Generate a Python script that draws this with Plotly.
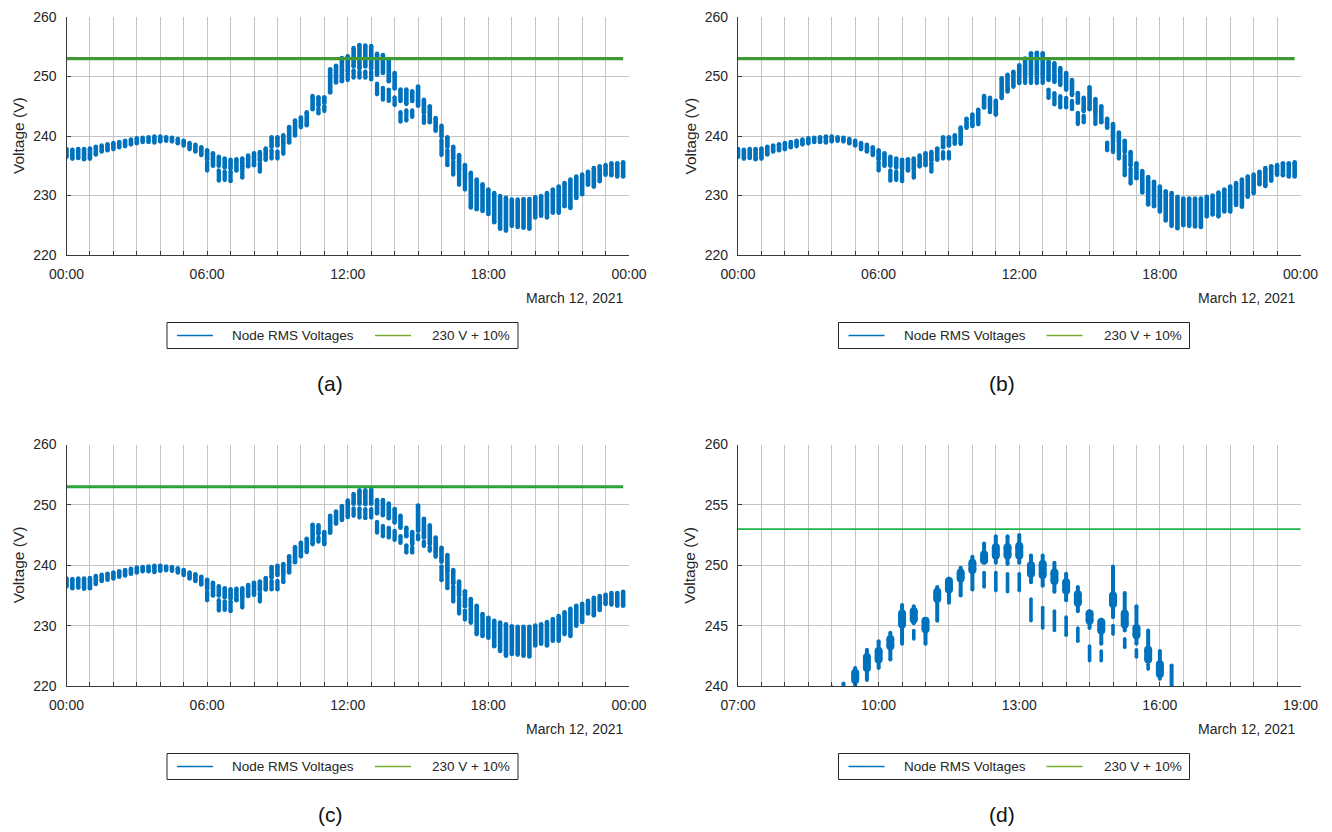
import pandas as pd
import plotly.graph_objects as go

DATE = "2021-03-12"
LIMIT = 253.0  # 230 V + 10 %
times = pd.date_range(f"{DATE} 00:00", periods=96, freq="15min")

# ---------------- scenario (a) ----------------
A_hi = [237.8, 237.7, 237.8, 237.8, 237.9, 238.2, 238.4, 238.6, 238.8, 239.0, 239.2, 239.4,
        239.6, 239.7, 239.8, 239.9, 239.9, 239.8, 239.7, 239.5, 239.2, 238.8, 238.5, 238.1,
        237.6, 237.1, 236.5, 236.2, 236.0, 236.1, 236.2, 236.7, 237.1, 237.3, 237.9,
        239.8, 239.8, 240.1, 241.5, 242.6, 243.1, 244.0, 246.7, 246.5, 246.5,
        251.2, 251.8, 253.1, 253.4, 254.8, 255.3, 255.2, 255.1, 253.8, 253.6, 252.9,
        250.6, 247.8, 247.8, 247.5, 248.3, 246.1, 245.0, 243.0, 241.7, 239.8, 238.2, 236.8, 235.1,
        233.8, 232.7, 231.9, 231.0, 230.4, 229.9, 229.6, 229.3, 229.3, 229.4, 229.4,
        229.7, 229.9, 230.4, 231.0, 231.5, 232.1, 232.7, 233.2, 233.5, 234.0, 234.6, 234.9,
        235.1, 235.4, 235.4, 235.6]
A_lo = [236.5, 236.2, 236.3, 236.1, 236.2, 236.9, 237.4, 237.6, 237.8, 238.1, 238.3, 238.6,
        238.8, 239.0, 239.0, 238.9, 239.1, 239.2, 239.1, 238.8, 238.4, 237.8, 237.4, 236.8,
        236.1, 235.0, 235.0, 234.7, 234.5, 234.2, 234.8, 234.9, 235.1, 235.9, 236.0,
        238.2, 238.4, 238.7, 238.9, 240.1, 241.5, 241.8, 244.5, 245.1, 245.6,
        247.3, 249.0, 249.2, 250.9, 251.7, 251.4, 251.7, 251.4, 250.3, 250.6, 249.2,
        248.0, 245.9, 245.4, 245.9, 245.1, 244.0, 242.3, 240.9, 239.9, 238.2, 236.2, 234.3, 232.7,
        228.0, 227.7, 227.4, 226.9, 225.5, 224.4, 224.1, 224.9, 224.7, 224.6, 224.4,
        226.3, 226.6, 226.3, 227.1, 227.1, 228.2, 227.9, 229.6, 230.2, 231.8, 231.5, 232.4,
        233.5, 233.4, 233.2, 233.2]
A_l2_t = ["06:00", "06:30", "06:45", "07:00", "07:30", "08:15", "08:45", "09:00", "09:15",
          "10:45", "11:00", "12:00", "12:15", "12:30", "12:45", "13:00", "13:15", "13:30",
          "13:45", "14:00", "14:15", "14:30", "14:45", "15:15", "16:00", "16:15", "16:30",
          "16:45", "17:00"]
A_l2_hi = [235.6, 234.2, 234.0, 234.0, 234.6, 235.4, 237.6, 237.4, 238.4,
           244.6, 245.0, 250.5, 251.0, 250.8, 250.8, 250.8, 248.8, 248.1,
           247.8, 246.5, 244.0, 244.3, 244.3, 243.4, 239.3, 237.6, 235.7,
           234.0, 232.4]
A_l2_lo = [234.2, 232.5, 232.6, 232.4, 233.0, 234.0, 236.2, 236.2, 237.0,
           243.8, 244.2, 249.4, 249.8, 249.8, 249.8, 249.5, 247.0, 246.1,
           245.9, 245.2, 242.4, 242.6, 243.2, 242.2, 236.8, 235.1, 233.5,
           231.8, 231.0]

# ---------------- scenario (b) ----------------
B_hi = A_hi[:35] + [
        239.8, 239.8, 240.1, 241.4, 242.9, 243.6, 244.4, 246.7, 246.4, 245.9,
        249.7, 250.3, 250.8, 251.9, 253.0, 253.9, 254.0, 253.9, 252.5, 252.2, 251.4,
        250.6, 249.4, 247.2, 246.4, 248.2, 246.2, 245.0, 242.9, 242.0, 240.6, 239.2, 237.3, 235.4,
        234.1, 233.1, 232.3, 231.5, 230.7, 230.4, 229.8, 229.5, 229.5, 229.5, 229.5,
        229.8, 230.0, 230.5, 231.0, 231.5, 232.1, 232.7, 233.2, 233.5, 234.0, 234.6, 234.9,
        235.1, 235.4, 235.4, 235.6]
B_lo = A_lo[:35] + [
        238.1, 238.4, 238.7, 238.7, 241.4, 241.7, 242.0, 244.8, 245.1, 243.6,
        246.4, 247.5, 248.3, 248.9, 250.3, 250.3, 250.3, 250.3, 249.4, 249.1, 248.6,
        247.8, 246.9, 245.6, 244.2, 244.5, 244.0, 242.3, 241.4, 240.1, 239.0, 237.3, 235.1, 232.9,
        230.5, 228.5, 228.2, 227.3, 225.8, 224.9, 224.5, 225.0, 224.9, 224.8, 224.7,
        226.5, 226.8, 226.5, 227.3, 227.3, 228.4, 228.1, 229.8, 230.4, 231.9, 231.6, 232.5,
        233.5, 233.4, 233.2, 233.2]
B_l2_t = ["06:00", "06:30", "06:45", "07:00", "07:30", "08:15", "08:45", "09:00",
          "10:45", "12:15", "12:30", "12:45", "13:00", "13:15", "13:30", "13:45", "14:00",
          "14:15", "14:30", "14:45", "15:15", "15:45", "16:00", "16:15", "16:30", "16:45"]
B_l2_hi = [235.6, 234.2, 234.0, 234.0, 234.6, 235.4, 237.3, 237.3,
           244.8, 250.0, 250.0, 250.0, 250.0, 247.8, 247.2, 246.7, 246.4,
           245.9, 243.9, 243.4, 243.7, 238.9, 239.8, 238.7, 236.7, 234.5]
B_l2_lo = [234.2, 232.5, 232.6, 232.4, 233.0, 234.0, 236.2, 236.2,
           244.0, 248.9, 248.9, 248.9, 248.9, 246.4, 245.3, 244.8, 244.8,
           244.5, 242.0, 242.3, 242.0, 237.6, 237.3, 236.2, 233.4, 232.0]

# ---------------- scenario (c) / zoom (d) ----------------
C_hi = A_hi[:35] + [
        239.7, 239.9, 240.2, 241.5, 243.0, 243.7, 244.4, 246.7, 246.6, 245.5,
        248.2, 248.9, 249.8, 250.7, 251.8, 252.4, 252.4, 252.5, 250.8, 250.8, 250.2,
        249.3, 248.2, 246.2, 245.5, 249.9, 247.7, 246.6, 244.6, 242.9, 241.7, 239.2, 237.3, 235.7,
        234.4, 233.3, 231.9, 231.3, 230.8, 230.5, 230.2, 229.9, 229.8, 229.8, 229.8,
        230.0, 230.2, 230.6, 231.1, 231.6, 232.2, 232.8, 233.3, 233.6, 234.1, 234.6, 234.9,
        235.1, 235.4, 235.4, 235.6]
C_lo = A_lo[:35] + [
        238.0, 238.4, 238.8, 238.8, 240.5, 241.5, 242.2, 243.5, 245.2, 243.5,
        245.4, 246.9, 247.5, 248.0, 250.2, 250.2, 250.1, 250.2, 248.6, 248.3, 247.8,
        247.1, 246.2, 244.8, 243.5, 245.7, 244.6, 243.5, 242.1, 240.6, 239.0, 237.0, 235.0, 233.2,
        230.5, 228.6, 228.3, 228.0, 226.6, 225.8, 225.0, 225.3, 225.2, 225.0, 224.9,
        226.7, 227.0, 226.7, 227.5, 227.5, 228.6, 228.3, 230.0, 230.6, 232.0, 231.7, 232.6,
        233.6, 233.5, 233.3, 233.3]
C_l2_t = ["06:00", "06:30", "06:45", "07:00", "07:30", "08:15", "08:45", "09:00", "09:15",
          "10:45", "12:15", "12:30", "12:45", "13:00", "13:15", "13:30", "13:45", "14:00",
          "14:15", "14:30", "14:45", "15:00", "15:15", "15:30", "15:45", "16:00", "16:15",
          "16:30", "16:45", "17:00"]
C_l2_hi = [235.6, 234.2, 234.0, 234.0, 234.6, 235.4, 237.4, 237.4, 238.6,
           244.6, 249.4, 249.4, 249.3, 249.3, 247.2, 246.5, 246.2, 245.7,
           244.8, 243.3, 242.9, 245.0, 243.9, 243.0, 241.8, 239.8, 238.6,
           236.5, 234.5, 232.5]
C_l2_lo = [234.2, 232.5, 232.6, 232.4, 233.0, 234.0, 236.0, 236.0, 237.2,
           243.9, 248.2, 247.9, 247.8, 247.9, 245.4, 244.8, 244.6, 244.2,
           243.7, 242.1, 242.1, 244.3, 243.2, 242.4, 241.4, 237.5, 236.2,
           234.0, 232.0, 231.0]
C_core_t = ["09:30", "09:45", "10:00", "10:15", "10:30", "10:45", "11:00", "11:15", "11:30",
            "11:45", "12:00", "12:15", "12:30", "12:45", "13:00", "13:15", "13:30", "13:45",
            "14:00", "14:15", "14:30", "14:45", "15:00", "15:15", "15:30", "15:45", "16:00"]
C_core_hi = [241.1, 242.4, 242.9, 243.9, 246.0, 246.2, 245.4, 247.8, 248.7,
             249.4, 250.2, 250.9, 251.5, 251.5, 251.6, 250.0, 250.1, 249.4,
             248.6, 247.6, 246.0, 245.3, 247.5, 246.0, 244.8, 243.0, 241.8]
C_core_lo = [240.5, 241.5, 242.2, 243.3, 245.1, 245.5, 244.7, 247.2, 248.0,
             248.9, 249.6, 250.4, 250.8, 250.8, 250.8, 249.3, 249.2, 248.7,
             247.9, 246.9, 245.4, 244.6, 246.8, 245.1, 244.2, 242.2, 241.0]

LEGEND_NAMES = ["Node RMS Voltages", "230 V + 10%"]
PANEL_LABELS = ["(a)", "(b)", "(c)", "(d)"]
DATE_LABEL = "March 12, 2021"
Y_TITLE = "Voltage (V)"

# ---------------- helpers ----------------
BLUE = "#0072BD"
LEG_GREEN = "#77AC30"
FONT = "Liberation Sans, Arial, Helvetica, sans-serif"
TXT = "#262626"
W, H = 1332, 832
PAGE_OFF = 8  # the page body adds an 8 px offset to the figure


def to_ts(lst):
    return [pd.Timestamp(f"{DATE} {s}") for s in lst]


def segs(tlist, hi, lo):
    xs, ys = [], []
    for t, h, l in zip(tlist, hi, lo):
        if h is None or l is None:
            continue
        xs += [t, t, None]
        ys += [l, h, None]
    return xs, ys


def px(x):
    return (x - PAGE_OFF) / W


def py(y):
    return 1 - (y - PAGE_OFF) / H


fig = go.Figure()

panels = [
    ("x", "y", times, A_hi, A_lo, to_ts(A_l2_t), A_l2_hi, A_l2_lo, None, "#3f9a36", 3.2),
    ("x2", "y2", times, B_hi, B_lo, to_ts(B_l2_t), B_l2_hi, B_l2_lo, None, "#3f9a36", 3.2),
    ("x3", "y3", times, C_hi, C_lo, to_ts(C_l2_t), C_l2_hi, C_l2_lo, None, "#2ca43c", 3.2),
    ("x4", "y4", times, C_hi, C_lo, to_ts(C_l2_t), C_l2_hi, C_l2_lo,
     (to_ts(C_core_t), C_core_hi, C_core_lo), "#1fb34a", 1.8),
]


def cluster_trace(xs, ys, xa, ya, w):
    return go.Scatter(x=xs, y=ys, mode="lines+markers", xaxis=xa, yaxis=ya,
                      line=dict(color=BLUE, width=w),
                      marker=dict(color=BLUE, size=w, line=dict(width=0)),
                      showlegend=False, hoverinfo="skip")


for xa, ya, t, hi, lo, t2, hi2, lo2, core, gcol, gw in panels:
    zoomed = core is not None
    x1, y1 = segs(t, hi, lo)
    fig.add_trace(cluster_trace(x1, y1, xa, ya, 4.0 if zoomed else 4.6))
    x2, y2 = segs(t2, hi2, lo2)
    fig.add_trace(cluster_trace(x2, y2, xa, ya, 3.6 if zoomed else 4.3))
    if zoomed:
        xc, yc = segs(*core)
        fig.add_trace(cluster_trace(xc, yc, xa, ya, 8.0))
    fig.add_trace(go.Scatter(x=[t[0], t[-1]], y=[LIMIT, LIMIT], mode="lines",
                             xaxis=xa, yaxis=ya, line=dict(color=gcol, width=gw),
                             showlegend=False, hoverinfo="skip"))

TOP_Y0 = 17.0
dom_left = [px(66.5), px(629)]
dom_right = [px(738), px(1300.5)]
dom_top = [py(255), py(TOP_Y0)]
dom_bot = [py(686), py(444.5)]

day_ticks = pd.date_range(f"{DATE} 00:00", periods=25, freq="60min")
day_text = [tk.strftime("%H:%M") if tk.hour % 6 == 0 else "" for tk in day_ticks]
zoom_ticks = pd.date_range(f"{DATE} 07:00", periods=25, freq="30min")
zoom_text = [tk.strftime("%H:%M") if (tk.minute == 0 and (tk.hour - 7) % 3 == 0) else ""
             for tk in zoom_ticks]

axis_common = dict(showgrid=True, gridcolor="#c4c4c4", gridwidth=1, showline=True,
                   linecolor="#3a3a3a", linewidth=1.2, ticks="inside", ticklen=4,
                   tickcolor="#3a3a3a", zeroline=False, automargin=False,
                   ticklabeloverflow="allow",
                   tickfont=dict(family=FONT, size=14, color=TXT))

day_range = [f"{DATE} 00:00", "2021-03-13 00:00"]
zoom_range = [f"{DATE} 07:00", f"{DATE} 19:00"]

layout_axes = {}
specs = [("xaxis", "yaxis", dom_left, dom_top, "y", "x", day_range, day_ticks, day_text, [220, 260], 10),
         ("xaxis2", "yaxis2", dom_right, dom_top, "y2", "x2", day_range, day_ticks, day_text, [220, 260], 10),
         ("xaxis3", "yaxis3", dom_left, dom_bot, "y3", "x3", day_range, day_ticks, day_text, [220, 260], 10),
         ("xaxis4", "yaxis4", dom_right, dom_bot, "y4", "x4", zoom_range, zoom_ticks, zoom_text, [240, 260], 5)]
for xk, yk, dx, dy, anc_x, anc_y, xr, tv, tt, yr, dt in specs:
    layout_axes[xk] = dict(axis_common, type="date", domain=dx, anchor=anc_x, range=xr,
                           tickmode="array", tickvals=list(tv), ticktext=tt,
                           ticklabelstandoff=6)
    layout_axes[yk] = dict(axis_common, domain=dy, anchor=anc_y, range=yr,
                           tickmode="linear", tick0=yr[0], dtick=dt, ticklabelstandoff=6)

annotations = []
shapes = []
# date labels, y titles, panel captions, legends (one per panel)
panel_px = [(66.5, 629, TOP_Y0, 255), (738, 1300.5, TOP_Y0, 255),
            (66.5, 629, 444.5, 686), (738, 1300.5, 444.5, 686)]
for k, (x0, x1, y0, y1) in enumerate(panel_px):
    annotations.append(dict(text=DATE_LABEL, x=px(x1 - 4), y=py(y1 + 43), xref="paper",
                            yref="paper", xanchor="right", yanchor="middle", showarrow=False,
                            font=dict(family=FONT, size=14, color=TXT)))
    annotations.append(dict(text=Y_TITLE, x=px(x0 - 48.5), y=py((y0 + y1) / 2), xref="paper",
                            yref="paper", xanchor="center", yanchor="middle", textangle=-90,
                            showarrow=False, font=dict(family=FONT, size=15.5, color=TXT)))
    annotations.append(dict(text=PANEL_LABELS[k], x=px(x0 + 263.5), y=py(y1 + 128), xref="paper",
                            yref="paper", xanchor="center", yanchor="middle", showarrow=False,
                            font=dict(family=FONT, size=21, color="#111111")))
    # legend box
    lx, lyc = x0 + 100.5, y1 + 80.5
    shapes.append(dict(type="rect", xref="paper", yref="paper", x0=px(lx), x1=px(lx + 351),
                       y0=py(lyc + 13), y1=py(lyc - 13), line=dict(color="#262626", width=1),
                       fillcolor="white", layer="above"))
    for j, (off_line, off_text, col) in enumerate([(10, 63, BLUE), (208, 263, LEG_GREEN)]):
        shapes.append(dict(type="line", xref="paper", yref="paper", x0=px(lx + off_line),
                           x1=px(lx + off_line + 36), y0=py(lyc), y1=py(lyc),
                           line=dict(color=col, width=1.4), layer="above"))
        annotations.append(dict(text=LEGEND_NAMES[j], x=px(lx + off_text), y=py(lyc),
                                xref="paper", yref="paper", xanchor="left", yanchor="middle",
                                showarrow=False, font=dict(family=FONT, size=13.5, color=TXT)))

fig.update_layout(template="none", width=W, height=H, margin=dict(l=0, r=0, t=0, b=0, pad=0),
                  paper_bgcolor="white", plot_bgcolor="white", showlegend=False,
                  annotations=annotations, shapes=shapes, **layout_axes)

fig.write_html("out.html")
